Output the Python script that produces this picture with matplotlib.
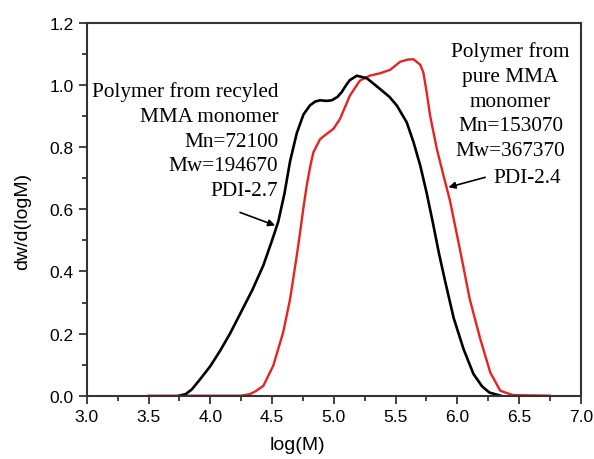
import matplotlib
matplotlib.use("Agg")
import matplotlib.pyplot as plt
from matplotlib.ticker import MultipleLocator

# GPC curves
recycled_logM = [3.75, 3.80, 3.85, 3.92, 4.0, 4.08, 4.16, 4.25, 4.34, 4.43, 4.50, 4.55,
                 4.60, 4.646, 4.70, 4.754, 4.808, 4.85, 4.889, 4.94, 4.984, 5.03, 5.065,
                 5.10, 5.13, 5.186, 5.267, 5.375, 5.45, 5.51, 5.59, 5.645, 5.70, 5.75,
                 5.80, 5.85, 5.90, 5.97, 6.05, 6.13, 6.20, 6.26, 6.35]
recycled_w = [0.0, 0.005, 0.02, 0.054, 0.095, 0.145, 0.20, 0.27, 0.34, 0.42, 0.50, 0.56,
              0.65, 0.755, 0.845, 0.905, 0.935, 0.947, 0.951, 0.949, 0.951, 0.962, 0.978,
              1.0, 1.016, 1.03, 1.022, 0.987, 0.962, 0.934, 0.88, 0.816, 0.74, 0.655,
              0.56, 0.46, 0.37, 0.25, 0.15, 0.07, 0.03, 0.01, 0.0]

pure_logM = [3.5, 4.25, 4.32, 4.37, 4.43, 4.51, 4.59, 4.646, 4.70, 4.727, 4.754, 4.78,
             4.81, 4.835, 4.889, 4.943, 4.997, 5.05, 5.13, 5.21, 5.29, 5.375, 5.456,
             5.537, 5.60, 5.645, 5.70, 5.725, 5.75, 5.78, 5.834, 5.888, 5.94, 6.02, 6.10,
             6.185, 6.266, 6.347, 6.45, 6.75]
pure_w = [0.0, 0.0, 0.005, 0.015, 0.032, 0.097, 0.204, 0.311, 0.451, 0.526, 0.605, 0.675,
          0.74, 0.784, 0.826, 0.843, 0.859, 0.891, 0.966, 1.014, 1.03, 1.038, 1.049,
          1.075, 1.082, 1.083, 1.065, 1.04, 0.98, 0.90, 0.794, 0.708, 0.628, 0.472, 0.311,
          0.183, 0.075, 0.016, 0.002, 0.0]

recycled_label = "Polymer from recyled\nMMA monomer\nMn=72100\nMw=194670\nPDI-2.7"
pure_label = "Polymer from\npure MMA\nmonomer\nMn=153070\nMw=367370"
pure_pdi = "PDI-2.4"

plt.rcParams['font.family'] = ['Liberation Sans', 'DejaVu Sans']

fig = plt.figure(figsize=(5.94, 4.60), dpi=100)
ax = fig.add_axes([0.146, 0.1376, 0.832, 0.8104])

ax.plot(pure_logM, pure_w, color='#e8231f', lw=1.7, solid_joinstyle='round')
ax.plot(recycled_logM, recycled_w, color='black', lw=1.9, solid_joinstyle='round')

ax.set_xlim(3.0, 7.0)
ax.set_ylim(0.0, 1.2)
ax.xaxis.set_major_locator(MultipleLocator(0.5))
ax.xaxis.set_minor_locator(MultipleLocator(0.25))
ax.yaxis.set_major_locator(MultipleLocator(0.2))
ax.yaxis.set_minor_locator(MultipleLocator(0.1))
ax.xaxis.set_major_formatter(plt.FormatStrFormatter('%.1f'))
ax.yaxis.set_major_formatter(plt.FormatStrFormatter('%.1f'))
ax.tick_params(which='both', direction='out', top=False, right=False,
               width=1.3, color='#333333', labelsize=12.5)
ax.tick_params(which='major', length=6)
ax.tick_params(which='minor', length=3.5)
for s in ax.spines.values():
    s.set_linewidth(1.5)
    s.set_color('#333333')

ax.set_xlabel("log(M)", fontsize=14)
ax.set_ylabel("dw/d(logM)", fontsize=14)
ax.xaxis.set_label_coords(0.426, -0.108)
ax.yaxis.set_label_coords(-0.112, 0.47)

serif = ['Liberation Serif', 'DejaVu Serif']
ax.text(4.549, 0.821, recycled_label, ha='right', va='center', multialignment='right',
        fontsize=15.3, family=serif, linespacing=1.42)
ax.text(6.43, 0.950, pure_label, ha='center', va='center', multialignment='center',
        fontsize=15.3, family=serif, linespacing=1.42)
ax.text(6.29, 0.703, pure_pdi, ha='left', va='center', fontsize=15.3, family=serif)

arrow = dict(arrowstyle='-|>', color='black', lw=1.2, mutation_scale=10,
             shrinkA=0, shrinkB=0)
ax.annotate("", xy=(4.525, 0.548), xytext=(4.241, 0.590), arrowprops=arrow)
ax.annotate("", xy=(5.928, 0.671), xytext=(6.225, 0.703), arrowprops=arrow)

fig.savefig("out.png", dpi=100)
